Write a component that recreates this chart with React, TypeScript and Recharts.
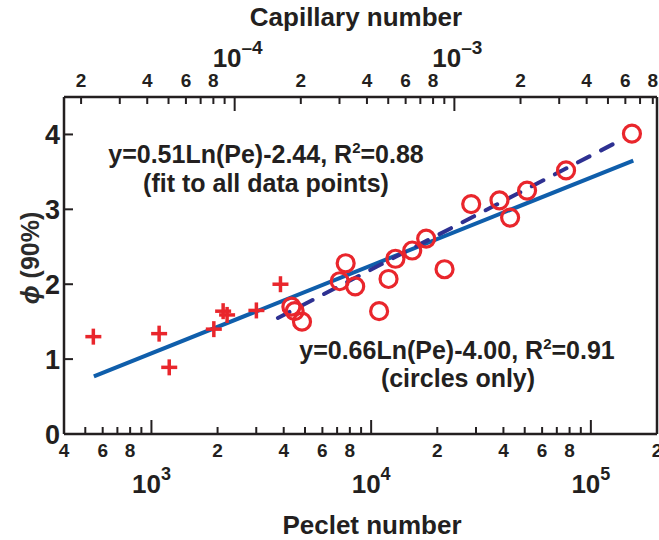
import React from 'react'
import {
  ComposedChart,
  Customized,
  Line,
  Scatter,
  XAxis,
  YAxis,
} from 'recharts'

const INK = '#231f20'
const RED = '#e9262c'
const BLUE = '#0f5eab'
const NAVY = '#2e3192'
const FONT = '"Liberation Sans", Arial, Helvetica, sans-serif'

// crosses (Peclet number, phi 90%)
const crossPe = [544, 1084, 1205, 1923, 2120, 2210, 3004, 3866]
const crossPhi = [1.3, 1.34, 0.89, 1.4, 1.64, 1.59, 1.65, 2.0]

// circles
const circlePe = [
  4335, 4487, 4845, 7194, 7656, 8460, 10870, 12000, 12900, 15380, 17800,
  21580, 28530, 38370, 42900, 51250, 77100, 153800,
]
const circlePhi = [
  1.7, 1.64, 1.5, 2.04, 2.28, 1.97, 1.64, 2.07, 2.34, 2.45, 2.61, 2.2, 3.07,
  3.12, 2.89, 3.25, 3.52, 4.01,
]

// fit lines, end points
const allFitPe = [547, 156000]
const allFitPhi = [0.77, 3.65]
const circleFitPe = [3764, 130000]
const circleFitPhi = [1.55, 3.89]

const peDomain = [400, 200000]
const peTicks = [
  400, 500, 600, 700, 800, 900, 1000, 2000, 3000, 4000, 5000, 6000, 7000,
  8000, 9000, 10000, 20000, 30000, 40000, 50000, 60000, 70000, 80000, 90000,
  100000, 200000,
]
// capillary number axis spans the same range as the Peclet axis
const caDomain = [1.672e-5, 8.36e-3]
const caTicks = [
  2e-5, 3e-5, 4e-5, 5e-5, 6e-5, 7e-5, 8e-5, 9e-5, 1e-4, 2e-4, 3e-4, 4e-4,
  5e-4, 6e-4, 7e-4, 8e-4, 9e-4, 1e-3, 2e-3, 3e-3, 4e-3, 5e-3, 6e-3, 7e-3,
  8e-3,
]
const phiTicks = [0, 1, 2, 3, 4]
const labelledMantissas = [2, 4, 6, 8]

const crosses = crossPe.map((pe, i) => ({ pe, phi: crossPhi[i] }))
const circles = circlePe.map((pe, i) => ({ pe, phi: circlePhi[i] }))
const allFit = allFitPe.map((pe, i) => ({ pe, phi: allFitPhi[i] }))
const circleFit = circleFitPe.map((pe, i) => ({ pe, phi: circleFitPhi[i] }))
// invisible points so the top axis gets drawn
const caRange = caDomain.map((ca) => ({ ca, phi: 0 }))

function split(v: number) {
  const exp = Math.floor(Math.log10(v) + 1e-9)
  const m = Math.round(v / Math.pow(10, exp))
  return { exp, m }
}

function PeTick({ x, y, payload }: any) {
  const { exp, m } = split(payload.value)
  const major = m === 1
  return (
    <g fontFamily={FONT} fontWeight="bold" fill={INK}>
      <line x1={x} x2={x} y1={y} y2={y - (major ? 14 : 7)} stroke={INK} strokeWidth={2} />
      {labelledMantissas.includes(m) && (
        <text x={x} y={y + 23} textAnchor="middle" fontSize={19}>
          {m}
        </text>
      )}
      {major && (
        <text x={x} y={y + 59} textAnchor="middle" fontSize={26}>
          10
          <tspan dy={-13} fontSize={18}>
            {exp}
          </tspan>
        </text>
      )}
    </g>
  )
}

function CaTick({ x, y, payload }: any) {
  const { exp, m } = split(payload.value)
  const major = m === 1
  return (
    <g fontFamily={FONT} fontWeight="bold" fill={INK}>
      <line x1={x} x2={x} y1={y} y2={y + (major ? 14 : 7)} stroke={INK} strokeWidth={2} />
      {labelledMantissas.includes(m) && (
        <text x={x} y={y - 10} textAnchor="middle" fontSize={19}>
          {m}
        </text>
      )}
      {major && (
        <text x={x + 3} y={y - 30} textAnchor="middle" fontSize={26}>
          10
          <tspan dy={-13} fontSize={19}>
            {'\u2013' + Math.abs(exp)}
          </tspan>
        </text>
      )}
    </g>
  )
}

function PhiTick({ x, y, payload }: any) {
  return (
    <g>
      <line x1={x} x2={x + 9} y1={y} y2={y} stroke={INK} strokeWidth={2} />
      <text
        x={x - 4}
        y={y + 10}
        textAnchor="end"
        fontSize={27}
        fontWeight="bold"
        fontFamily={FONT}
        fill={INK}
      >
        {payload.value}
      </text>
    </g>
  )
}

const Cross = ({ cx, cy }: any) => (
  <g stroke={RED} strokeWidth={3.5}>
    <line x1={cx - 8} x2={cx + 8} y1={cy} y2={cy} />
    <line x1={cx} x2={cx} y1={cy - 8} y2={cy + 8} />
  </g>
)

const Ring = ({ cx, cy }: any) => (
  <circle cx={cx} cy={cy} r={8.5} fill="none" stroke={RED} strokeWidth={3.2} />
)

const Nothing = () => <g />

function Annotations() {
  return (
    <g fontFamily={FONT} fill={INK}>
      <text x={356} y={26} textAnchor="middle" fontSize={26} fontWeight="bold">
        Capillary number
      </text>
      <text x={372} y={534} textAnchor="middle" fontSize={26} fontWeight="bold">
        Peclet number
      </text>
      <text
        transform="translate(39,258) rotate(-90)"
        textAnchor="middle"
        fontSize={25}
        fontWeight={600}
        fill="#2b2b2b"
      >
        <tspan fontStyle="italic">ϕ</tspan> (90%)
      </text>
      <g fontSize={25} fontWeight="bold" textAnchor="middle">
        <text x={266} y={163}>
          y=0.51Ln(Pe)-2.44, R<tspan dy={-10} fontSize={15}>2</tspan>
          <tspan dy={10}>=0.88</tspan>
        </text>
        <text x={266} y={192}>(fit to all data points)</text>
        <text x={457} y={359}>
          y=0.66Ln(Pe)-4.00, R<tspan dy={-10} fontSize={15}>2</tspan>
          <tspan dy={10}>=0.91</tspan>
        </text>
        <text x={458} y={387}>(circles only)</text>
      </g>
    </g>
  )
}

export default function App() {
  const axisLine = { stroke: INK, strokeWidth: 2.5 }
  return (
    <div style={{ position: 'absolute', left: 0, top: 0, background: '#fff' }}>
      <ComposedChart
        width={659}
        height={540}
        margin={{ top: 0, right: 0, bottom: 0, left: 0 }}
      >
        <XAxis
          xAxisId="pe"
          dataKey="pe"
          type="number"
          scale="log"
          domain={peDomain}
          allowDataOverflow
          ticks={peTicks}
          interval={0}
          height={106}
          tickSize={0}
          tickMargin={0}
          tickLine={false}
          axisLine={axisLine}
          tick={<PeTick />}
        />
        <XAxis
          xAxisId="ca"
          dataKey="ca"
          orientation="top"
          type="number"
          scale="log"
          domain={caDomain}
          allowDataOverflow
          ticks={caTicks}
          interval={0}
          height={97}
          tickSize={0}
          tickMargin={0}
          tickLine={false}
          axisLine={axisLine}
          tick={<CaTick />}
        />
        <YAxis
          yAxisId="phi"
          type="number"
          domain={[0, 4.5]}
          allowDataOverflow
          ticks={phiTicks}
          interval={0}
          width={64}
          tickSize={0}
          tickMargin={0}
          tickLine={false}
          axisLine={axisLine}
          tick={<PhiTick />}
        />
        <YAxis
          yAxisId="right"
          orientation="right"
          type="number"
          domain={[0, 4.5]}
          allowDataOverflow
          width={2}
          tick={false}
          tickLine={false}
          axisLine={axisLine}
        />
        <Scatter
          data={caRange}
          dataKey="phi"
          xAxisId="ca"
          yAxisId="phi"
          shape={<Nothing />}
          isAnimationActive={false}
        />
        <Scatter
          data={crosses}
          dataKey="phi"
          xAxisId="pe"
          yAxisId="phi"
          shape={<Cross />}
          isAnimationActive={false}
        />
        <Scatter
          data={circles}
          dataKey="phi"
          xAxisId="pe"
          yAxisId="phi"
          shape={<Ring />}
          isAnimationActive={false}
        />
        <Line
          data={allFit}
          dataKey="phi"
          xAxisId="pe"
          yAxisId="phi"
          type="linear"
          stroke={BLUE}
          strokeWidth={4}
          dot={false}
          activeDot={false}
          isAnimationActive={false}
        />
        <Line
          data={circleFit}
          dataKey="phi"
          xAxisId="pe"
          yAxisId="phi"
          type="linear"
          stroke={NAVY}
          strokeWidth={4}
          strokeDasharray="13 13"
          strokeLinecap="round"
          dot={false}
          activeDot={false}
          isAnimationActive={false}
        />
        <Customized component={Annotations} />
      </ComposedChart>
    </div>
  )
}
